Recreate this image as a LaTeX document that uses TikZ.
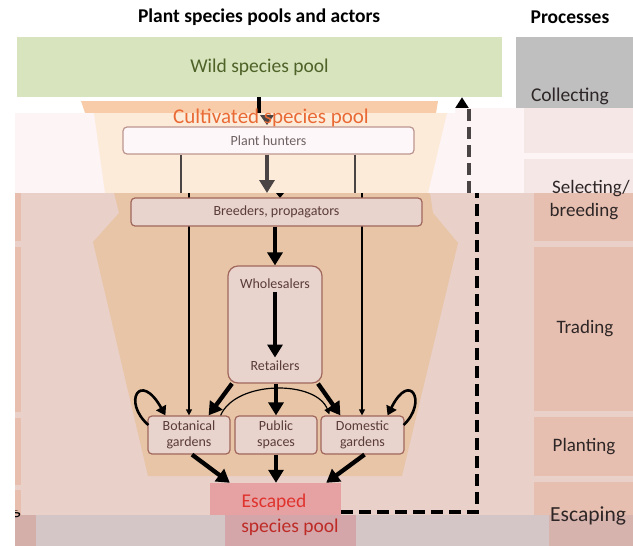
\documentclass[tikz,border=0pt]{standalone}
\usepackage{fontspec}
\setmainfont{Carlito}
\usetikzlibrary{arrows.meta,calc}
\definecolor{wildfill}{HTML}{D7E4BD}
\definecolor{wildtext}{HTML}{4F6228}
\definecolor{collectfill}{HTML}{BFBFBF}
\definecolor{bandfill}{HTML}{F8CCA9}
\definecolor{topbg}{HTML}{FDF4F6}
\definecolor{toptrap}{HTML}{FDEBDA}
\definecolor{fadebox}{HTML}{F6E7E7}
\definecolor{lowbg}{HTML}{E9D0C9}
\definecolor{lowtrap}{HTML}{E8C5A6}
\definecolor{procbox}{HTML}{E6BFB0}
\definecolor{stripc}{HTML}{E8BFAE}
\definecolor{nodefill}{HTML}{E9D3CD}
\definecolor{nodeborder}{HTML}{A0675C}
\definecolor{hunterfill}{HTML}{FEF7F9}
\definecolor{hunterborder}{HTML}{BB968F}
\definecolor{escU}{HTML}{E6A2A3}
\definecolor{escL}{HTML}{D4A6A9}
\definecolor{botbg}{HTML}{D4C5C6}
\definecolor{botleft}{HTML}{D4AEA8}
\definecolor{botright}{HTML}{D6B3AD}
\definecolor{cultc}{HTML}{E96A35}
\definecolor{escc}{HTML}{E0332E}
\definecolor{nodetext}{HTML}{5A3C38}
\definecolor{huntertext}{HTML}{6E6262}
\definecolor{proctext}{HTML}{2E2626}
\definecolor{fadeline}{HTML}{4A4444}
\begin{document}
\begin{tikzpicture}[x=1pt,y=-1pt,
  big/.style={font=\fontsize{19.5}{22}\selectfont},
  bigbold/.style={font=\bfseries\fontsize{19.5}{22}\selectfont},
  proclabel/.style={font=\fontsize{19}{22}\selectfont, text=proctext, inner sep=0pt},
  actor/.style={draw=nodeborder, line width=1.2pt, fill=nodefill, rounded corners=4pt,
     text=nodetext, font=\fontsize{14}{16}\selectfont, align=center, inner sep=0pt},
  bigarrow/.style={line width=4.3pt, -{Triangle[length=13pt,width=15pt]}},
  thinarrow/.style={line width=1.2pt, -{Triangle[length=6pt,width=6pt]}},
  thinline/.style={line width=1.2pt},
  dashline/.style={line width=4.5pt, dash pattern=on 12pt off 6pt},
]
\useasboundingbox (0,0) rectangle (633,546);
\fill[white] (0,0) rectangle (633,546);

% ---------- base layer ----------
\node[bigbold] (title) at (259,17) {Plant species pools and actors};
\node[bigbold] (proctitle) at (570,17) {Processes};
\node[fill=wildfill, minimum width=485pt, minimum height=60pt, inner sep=0pt,
      text=wildtext, big] (wild) at (259.5,67) {Wild species pool};
\fill[collectfill] (516,37) rectangle (633,108);
\node[proclabel, font=\fontsize{19.5}{22}\selectfont] (collecting) at (570,96) {Collecting};
\fill[bandfill] (81,101) -- (438,101) -- (436,113) -- (85,113) -- cycle;
\coordinate (wildin) at (259,126);
\draw[bigarrow] (wild.south -| wildin) -- (wildin);
\coordinate (dashtop) at (462,108);
\draw[line width=4.5pt, -{Triangle[length=11pt,width=13pt]}] (dashtop) -- (dashtop |- wild.south);

% ---------- top overlay ----------
\fill[topbg] (15,113) rectangle (633,193);
\fill[topbg] (455,108) rectangle (633,113);
\fill[toptrap] (94,113) -- (447,113) -- (428,193) -- (105,193) -- cycle;
\fill[fadebox] (524,108) rectangle (633,153);
\fill[fadebox] (524,159) rectangle (633,193);
\fill[fadeline] (260,115) -- (274,115) -- (267,125) -- cycle;
\node[actor, draw=hunterborder, fill=hunterfill, text=huntertext,
      minimum width=291pt, minimum height=27pt] (hunters) at (268.5,140.5) {Plant hunters};
\coordinate (hl) at (181,193);
\coordinate (hr) at (355,193);
\coordinate (hm) at (267,193);
\draw[thinline, fadeline] (hunters.south -| hl) -- (hl);
\draw[thinline, fadeline] (hunters.south -| hr) -- (hr);
\draw[bigarrow, fadeline] (hunters.south -| hm) -- (hm);
\coordinate (dashmid) at (469,193);
\draw[dashline, fadeline] (dashmid) -- (469,108);
\node[text=cultc, font=\fontsize{21}{24}\selectfont] (cultivated) at (271,118) {Cultivated species pool};

% ---------- lower panel ----------
\fill[lowbg] (15,193) rectangle (633,515);
\fill[lowtrap] (114,193) -- (430,193) -- (433,213) -- (458,243) -- (402,476) -- (148,476) -- (93,242) -- (119,213) -- cycle;
\foreach \a/\b in {193/241,247/412,418/485,490/515}{\fill[stripc] (15,\a) rectangle (21,\b);}
\foreach \a/\b in {193/241,247/411,417/476,482/515}{\fill[procbox] (534,\a) rectangle (633,\b);}
\node[proclabel] (selecting) at (591,189) {Selecting/};
\node[proclabel] (breeding) at (584,212) {breeding};
\node[proclabel] (trading) at (585,329) {Trading};
\node[proclabel] (planting) at (584,447) {Planting};

% actors
\node[actor, minimum width=82pt, minimum height=38pt] (bot) at (189,435) {Botanical\\gardens};
\node[actor, minimum width=82pt, minimum height=38pt] (pub) at (276,435) {Public\\spaces};
\node[actor, minimum width=83pt, minimum height=38pt] (dom) at (362.5,435) {Domestic\\gardens};
\draw[thinarrow] (189,193) -- (bot.north -| 189,0);
\draw[thinarrow] (362,193) -- (dom.north -| 362,0);
\fill (276,193) -- (284,193) -- (280,198) -- cycle;
\node[actor, minimum width=291pt, minimum height=28pt] (breeders) at (276.5,212) {Breeders, propagators};
\node[actor, rounded corners=10pt, minimum width=94pt, minimum height=117pt] (wr) at (275,324.5) {};
\node[text=nodetext, font=\fontsize{14}{16}\selectfont] (whole) at (275,284) {Wholesalers};
\node[text=nodetext, font=\fontsize{14}{16}\selectfont] (retail) at (275,366) {Retailers};
\draw[bigarrow] (breeders.south -| wr.north) -- (wr.north);
\draw[bigarrow] (whole.south) -- (retail.north);
\draw[bigarrow] ($(wr.south)+(-43,0)$) -- ($(bot.north east)+(-22,0)$);
\draw[bigarrow] (wr.south -| pub.north) -- (pub.north);
\draw[bigarrow] ($(wr.south)+(43,0)$) -- ($(dom.north west)+(20,0)$);
\draw[thinarrow] ($(bot.north east)+(-10,0)$) .. controls (236,380) and (316,380) .. ($(dom.north west)+(9,-1)$);
\draw[line width=2.6pt, -{Triangle[length=9pt,width=11pt]}] ($(bot.west)+(1,-10)$) .. controls (122,402) and (140,370) .. ($(bot.north west)+(18,0)$);
\draw[line width=2.6pt, -{Triangle[length=9pt,width=11pt]}] ($(dom.east)+(-1,-10)$) .. controls (428,402) and (410,370) .. ($(dom.north east)+(-17,0)$);

% escaped pool
\node[fill=escU, minimum width=131pt, minimum height=32pt, inner sep=0pt] (esc) at (275.5,499) {};
\node[text=escc, big] (escaped) at (274,502) {Escaped};
\draw[bigarrow] ($(bot.south)+(3,0)$) -- ($(esc.north west)+(20,0)$);
\draw[bigarrow] (pub.south) -- (pub.south |- esc.north);
\draw[bigarrow] ($(dom.south)+(2,0)$) -- ($(esc.north east)+(-15,0)$);
\coordinate (dcorner) at (477,512);
\draw[dashline] (esc.east |- dcorner) -- (dcorner) -- (dcorner |- dashmid);

% ---------- bottom strip ----------
\fill[botbg] (15,515) rectangle (633,546);
\fill[botleft] (15,515) rectangle (36,546);
\fill[botright] (549,515) rectangle (633,546);
\node[fill=escL, minimum width=131pt, minimum height=31pt, inner sep=0pt] (escl) at (290.5,530.5) {};
\node[text=escc!85!black, big] (speciespool) at (290,527) {species pool};
\node[proclabel, anchor=west, font=\fontsize{21.5}{24}\selectfont] (escaping) at (550,516) {Escaping};
\begin{scope}
\clip (15,510) rectangle (36,546);
\node[proclabel, anchor=east, text=black] (gpart) at (21,512) {g};
\end{scope}
\end{tikzpicture}
\end{document}
